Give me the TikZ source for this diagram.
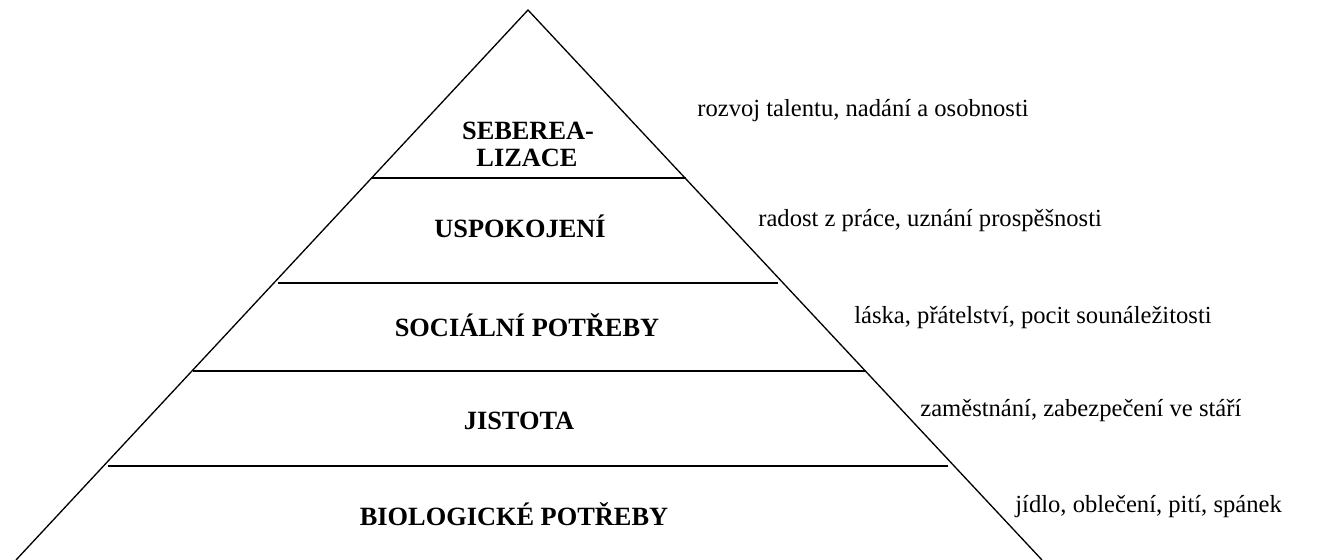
\documentclass[tikz,border=0pt]{standalone}
\usepackage{fontspec}
\setmainfont{LiberationSerif}[Extension=.ttf, UprightFont=*-Regular, BoldFont=*-Bold]
\usepackage{tikz}

\tikzset{
  side/.style={line width=0.75pt},
  rung/.style={line width=1.2pt},
  stage/.style={font=\fontsize{15}{17}\selectfont\bfseries, inner sep=0pt, anchor=base},
  need/.style={font=\fontsize{14}{16}\selectfont, inner sep=0pt, anchor=base west}
}

\begin{document}
\begin{tikzpicture}[x=0.02cm, y=-0.02cm]
    \useasboundingbox (0,0) rectangle (1319,560);
    \coordinate (top) at (528,10);
    \coordinate (bl) at (16,560);
    \coordinate (br) at (1042,560);
    \draw[side] (bl) -- (top) -- (br);
    % levels
    \coordinate (l1) at (372,178); \coordinate (r1) at (686,178);
    \coordinate (l2) at (278,283); \coordinate (r2) at (778,283);
    \coordinate (l3) at (193,371); \coordinate (r3) at (865,371);
    \coordinate (l4) at (108,466); \coordinate (r4) at (948,466);
    \draw[rung] (l1) -- (r1);
    \draw[rung] (l2) -- (r2);
    \draw[rung] (l3) -- (r3);
    \draw[rung] (l4) -- (r4);
    % stages
    \node[stage] (self1) at (528,140) {SEBEREA-};
    \node[stage] (self2) at (527,167) {LIZACE};
    \node[stage] (esteem) at (520,238) {USPOKOJENÍ};
    \node[stage] (social) at (527,337) {SOCIÁLNÍ POTŘEBY};
    \node[stage] (safety) at (519,430) {JISTOTA};
    \node[stage] (bio) at (514,525) {BIOLOGICKÉ POTŘEBY};
    % needs
    \node[need] (n1) at (697,117) {rozvoj talentu, nadání a osobnosti};
    \node[need] (n2) at (758,227) {radost z práce, uznání prospěšnosti};
    \node[need] (n3) at (854,324) {láska, přátelství, pocit sounáležitosti};
    \node[need] (n4) at (920,417) {zaměstnání, zabezpečení ve stáří};
    \node[need] (n5) at (1015,513) {jídlo, oblečení, pití, spánek};
\end{tikzpicture}
\end{document}
